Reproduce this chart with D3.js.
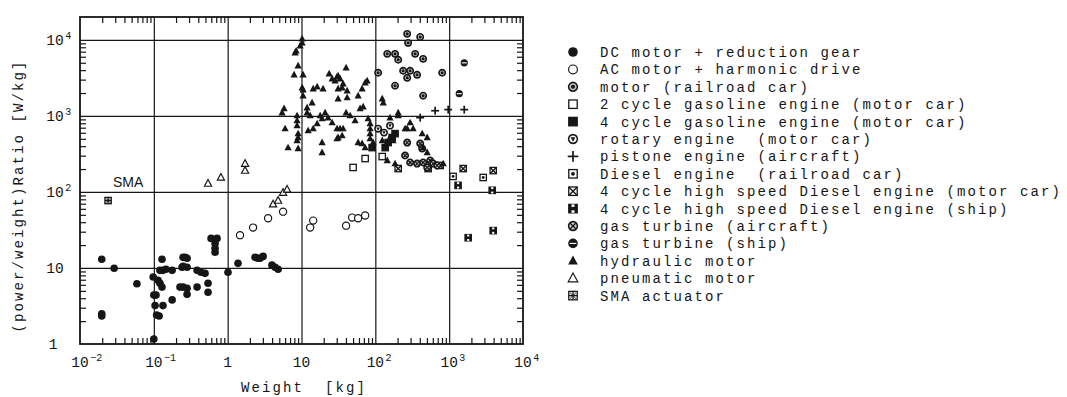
<!DOCTYPE html>
<html><head><meta charset="utf-8">
<script src="https://cdn.jsdelivr.net/npm/d3@7"></script>
<style>body{margin:0;background:#fff}</style>
</head><body>
<svg id="c" width="1067" height="397"></svg>
<script>
// ---------------- data ----------------
const xTickExps = [-2, -1, 0, 1, 2, 3, 4];
const yTickExps = [0, 1, 2, 3, 4];
const xTitle = "Weight  [kg]";
const yTitle = "(power/weight)Ratio [W/kg]";
const smaLabel = "SMA";

const seriesNames = [
  "DC motor + reduction gear",
  "AC motor + harmonic drive",
  "motor (railroad car)",
  "2 cycle gasoline engine (motor car)",
  "4 cycle gasoline engine (motor car)",
  "rotary engine  (motor car)",
  "pistone engine (aircraft)",
  "Diesel engine  (railroad car)",
  "4 cycle high speed Diesel engine (motor car)",
  "4 cycle high speed Diesel engine (ship)",
  "gas turbine (aircraft)",
  "gas turbine (ship)",
  "hydraulic motor",
  "pneumatic motor",
  "SMA actuator"
];
const seriesSymbols = ["dot","circle","bullseye","square","filledSquare","rotary","plus",
  "squareDot","squareX","squareH","circleX","circleBar","triangle","openTriangle","squareStar"];

// [weight kg, ratio W/kg]
const dcMotor = [[0.0197,13.0],[0.0197,2.5],[0.0197,2.33],[0.029,9.9],[0.059,6.2],[0.098,7.6],
  [0.1,1.16],[0.1,4.4],[0.107,4.4],[0.104,3.2],[0.109,2.4],[0.118,2.33],[0.129,13.0],[0.121,9.3],
  [0.133,9.3],[0.146,9.6],[0.177,9.3],[0.114,6.9],[0.121,6.3],[0.129,5.6],[0.133,3.2],[0.177,3.8],
  [0.226,5.6],[0.249,5.6],[0.282,5.4],[0.241,10.2],[0.249,10.5],[0.282,10.2],[0.249,13.8],
  [0.265,13.8],[0.282,13.4],[0.282,4.5],[0.385,9.3],[0.436,8.8],[0.494,8.5],[0.385,5.6],
  [0.542,6.3],[0.542,4.8],[0.596,24.5],[0.718,24.5],[0.675,21],[0.675,18.2],[0.675,16.1],
  [1.01,8.8],[1.38,11.5],[2.35,13.8],[2.57,13.4],[2.75,13.4],[3.02,14.2],[3.98,10.9],[4.39,10.2],[4.82,9.6]];
const acMotor = [[1.47,27],[2.21,34],[3.53,45],[5.63,55],[13.1,34],[14.4,42],[40.2,36],[48.5,46],[58.5,45],[72.8,49]];
const railroadMotor = [[270,12000],[278,9140],[405,10900],[145,6550],[185,6550],[204,5470],[346,6550],
  [444,5630],[109,3690],[238,3920],[270,3170],[296,3920],[368,3470],[804,3690],[185,2490],[444,1840]];
const gasoline2 = [[50,210],[72.8,275],[124,292]];
const gasoline4 = [[90.5,383],[136,383],[185,585],[169,519],[149,446]];
const rotaryEngine = [[109,680],[131,603],[158,745]];
const pistonEngine = [[405,948],[646,1170],[970,1210],[1600,1210]];
const dieselRail = [[1130,160],[2890,155]];
const dieselCar = [[204,203],[519,203],[755,223],[1550,203],[3950,191]];
const dieselShip = [[1320,122],[3830,105],[1810,25],[3950,31]];
const turbineAir = [[270,446],[253,301],[405,433],[431,372],[296,244],[368,236],[444,244],[504,210],[553,259],[607,236],[687,223]];
const turbineShip = [[1600,4990],[1370,1960]];
const hydraulic = [[10.2,10300],[10.2,9140],[9.57,8340],[8.45,7170],[8.19,6750],[9.0,4560],[7.94,3470],
  [10.5,3470],[10.2,2350],[10.5,2210],[10.5,1840],[14.4,2280],[16.3,2420],[19.6,2280],[23.7,3580],
  [26.0,3080],[28.5,2900],[30.3,3270],[31.3,3370],[33.3,3080],[36.6,2650],[40.2,4290],[31.3,2280],
  [35.5,2350],[41.5,2140],[41.5,1740],[31.3,1680],[13.9,1490],[11.9,1280],[58.5,1840],[66.2,2280],
  [72.8,2730],[77.4,2900],[62.2,1250],[68.4,1320],[124,1680],[128,1490],[5.81,1250],[5.46,1100],
  [8.71,1010],[8.71,866],[8.71,745],[6.0,680],[6.58,383],[9.0,372],[11.9,1100],[13.1,1010],[17.9,1010],
  [19.0,920],[16.3,791],[14.4,680],[12.3,641],[20.9,1100],[22.9,948],[26.0,815],[30.3,680],[33.3,680],
  [36.6,680],[31.3,519],[35.5,551],[30.3,503],[19.0,446],[19.0,330],[9.0,585],[9.0,519],[8.71,474],
  [40.2,1100],[45.6,1010],[53.2,866],[58.5,446],[66.2,433],[72.8,383],[79.8,920],[85,791],[85,680],
  [85,585],[85,503],[93.3,446],[158,948],[204,1010],[204,1100],[296,815],[270,680],[253,680],[325,680],
  [431,585],[504,519],[444,383],[504,330],[145,259],[185,236],[830,236],[158,519],[174,474],[124,474]];
const pneumatic = [[0.542,129],[0.81,155],[1.72,191],[1.72,236],[4.12,69],[4.82,77],[5.63,98],[6.38,108]];
const smaActuator = [[0.024,77]];

const seriesData = [dcMotor, acMotor, railroadMotor, gasoline2, gasoline4, rotaryEngine, pistonEngine,
  dieselRail, dieselCar, dieselShip, turbineAir, turbineShip, hydraulic, pneumatic, smaActuator];

// ---------------- drawing ----------------
const ink = "#161616";
const svg = d3.select("#c");
const L = 80, R = 523, T = 17, B = 344;
const x = d3.scaleLog().domain([1e-2, 1e4]).range([L, R]);
const y = d3.scaleLog().domain([1, 2e4]).range([B, T]);

const majX = xTickExps.map(e => Math.pow(10, e));
const majY = yTickExps.map(e => Math.pow(10, e));
const minX = [], minY = [];
for (let e = -2; e < 4; e++) for (let m = 2; m <= 9; m++) minX.push(m * Math.pow(10, e));
for (let e = 0; e < 4; e++) for (let m = 2; m <= 9; m++) minY.push(m * Math.pow(10, e));

function styleAxis(g) {
  g.select(".domain").remove();
  g.selectAll(".tick line").attr("stroke", ink).attr("stroke-width", 1.2);
}
// gridlines
svg.append("g").attr("transform", `translate(0,${B})`)
  .call(d3.axisBottom(x).tickValues(majX.slice(1, -1)).tickSize(-(B - T)).tickFormat(""))
  .call(styleAxis);
svg.append("g").attr("transform", `translate(${L},0)`)
  .call(d3.axisLeft(y).tickValues(majY.slice(1)).tickSize(-(R - L)).tickFormat(""))
  .call(styleAxis);
// minor ticks (inward) on four sides
svg.append("g").attr("transform", `translate(0,${B})`)
  .call(d3.axisBottom(x).tickValues(minX).tickSize(-6).tickFormat("")).call(styleAxis);
svg.append("g").attr("transform", `translate(0,${T})`)
  .call(d3.axisTop(x).tickValues(minX).tickSize(-6).tickFormat("")).call(styleAxis);
svg.append("g").attr("transform", `translate(${L},0)`)
  .call(d3.axisLeft(y).tickValues(minY).tickSize(-6).tickFormat("")).call(styleAxis);
svg.append("g").attr("transform", `translate(${R},0)`)
  .call(d3.axisRight(y).tickValues(minY).tickSize(-6).tickFormat("")).call(styleAxis);
// frame
svg.append("rect").attr("x", L).attr("y", T).attr("width", R - L).attr("height", B - T)
  .attr("fill", "none").attr("stroke", ink).attr("stroke-width", 1.8);

// tick labels
const tickFont = "'Liberation Mono', monospace";
function expLabel(g, e, cx, cy) {
  const t = g.append("text").attr("font-family", tickFont).attr("font-size", 14.5).attr("fill", ink);
  if (e === 0) {
    t.attr("x", cx).attr("y", cy).attr("text-anchor", "middle").text("1");
  } else if (e === 1) {
    t.attr("x", cx).attr("y", cy).attr("text-anchor", "middle").text("10");
  } else {
    t.attr("x", cx - 8.7).attr("y", cy).text("10");
    t.append("tspan").attr("font-size", 10).attr("dy", -6).attr("dx", 1.5)
      .text(e < 0 ? "\u2212" + (-e) : String(e));
  }
}
const gl = svg.append("g");
xTickExps.forEach(e => expLabel(gl, e, x(Math.pow(10, e)), 367));
yTickExps.forEach(e => expLabel(gl, e, e === 0 ? 53 : 55, y(Math.pow(10, e)) + 5));

// axis titles
const titleFont = "'Liberation Mono', monospace";
svg.append("text").attr("x", 304).attr("y", 392).attr("text-anchor", "middle")
  .attr("font-family", titleFont).attr("font-size", 14).attr("letter-spacing", 2.1)
  .attr("fill", ink).style("white-space", "pre").text(xTitle);
svg.append("text").attr("transform", "translate(23,196) rotate(-90)").attr("text-anchor", "middle")
  .attr("font-family", titleFont).attr("font-size", 14).attr("letter-spacing", 2.1)
  .attr("fill", ink).text(yTitle);

// markers
function marker(g, type, cx, cy, s) {
  const G = g.append("g").attr("transform", `translate(${cx},${cy})`);
  const sw = 1.3;
  const q = s * 0.88;
  const sq = (fill) => G.append("rect").attr("x", -q).attr("y", -q).attr("width", 2 * q).attr("height", 2 * q)
    .attr("fill", fill).attr("stroke", ink).attr("stroke-width", sw);
  const ln = (x1, y1, x2, y2, w, c) => G.append("line").attr("x1", x1).attr("y1", y1).attr("x2", x2).attr("y2", y2)
    .attr("stroke", c || ink).attr("stroke-width", w || sw);
  switch (type) {
    case "dot": G.append("circle").attr("r", s).attr("fill", ink); break;
    case "circle": G.append("circle").attr("r", s - 0.4).attr("fill", "#fff").attr("stroke", ink).attr("stroke-width", sw * 0.9); break;
    case "bullseye":
      G.append("circle").attr("r", s - 0.4).attr("fill", "#bbb").attr("stroke", ink).attr("stroke-width", sw * 1.2);
      G.append("circle").attr("r", s * 0.42).attr("fill", ink); break;
    case "square": sq("#fff"); break;
    case "filledSquare": sq(ink); break;
    case "rotary":
      G.append("circle").attr("r", s - 0.4).attr("fill", "#fff").attr("stroke", ink).attr("stroke-width", sw * 1.2);
      G.append("path").attr("d", `M0,${s * 0.55}L${-s * 0.5},${-s * 0.35}L${s * 0.5},${-s * 0.35}Z`).attr("fill", ink);
      break;
    case "plus": ln(-s * 1.1, 0, s * 1.1, 0, 1.7); ln(0, -s * 1.1, 0, s * 1.1, 1.7); break;
    case "squareDot": sq("#fff"); G.append("circle").attr("r", s * 0.4).attr("fill", ink); break;
    case "squareX": sq("#fff"); ln(-q, -q, q, q, 1.4); ln(-q, q, q, -q, 1.4); break;
    case "squareH":
      sq(ink);
      G.append("rect").attr("x", -q * 0.35).attr("y", -q).attr("width", q * 0.7).attr("height", q * 0.6).attr("fill", "#fff");
      G.append("rect").attr("x", -q * 0.35).attr("y", q * 0.4).attr("width", q * 0.7).attr("height", q * 0.6).attr("fill", "#fff");
      break;
    case "circleX": {
      G.append("circle").attr("r", s - 0.4).attr("fill", "#ccc").attr("stroke", ink).attr("stroke-width", sw * 1.2);
      const k = s * 0.62; ln(-k, -k, k, k, 1.2); ln(-k, k, k, -k, 1.2); break; }
    case "circleBar":
      G.append("circle").attr("r", s).attr("fill", ink);
      ln(-s * 0.7, 0, s * 0.7, 0, 1.1, "#fff"); break;
    case "triangle":
      G.append("path").attr("d", `M0,${-s * 1.1}L${s},${s * 0.75}L${-s},${s * 0.75}Z`).attr("fill", ink); break;
    case "openTriangle":
      G.append("path").attr("d", `M0,${-s * 1.1}L${s},${s * 0.75}L${-s},${s * 0.75}Z`).attr("fill", "#fff")
        .attr("stroke", ink).attr("stroke-width", sw * 0.9); break;
    case "squareStar": sq("#fff"); ln(-q, 0, q, 0); ln(0, -q, 0, q); ln(-q * 0.7, -q * 0.7, q * 0.7, q * 0.7, 0.9); ln(-q * 0.7, q * 0.7, q * 0.7, -q * 0.7, 0.9); break;
  }
}

const gp = svg.append("g");
seriesData.forEach((arr, i) => {
  const type = seriesSymbols[i];
  const s = (type === "circle") ? 4.0 : (type === "dot" ? 3.8 : 3.6);
  arr.forEach(d => marker(gp, type, x(d[0]), y(d[1]), s));
});

// SMA annotation
svg.append("text").attr("x", 113).attr("y", 187).attr("font-family", "'Liberation Sans', Arial, sans-serif")
  .attr("font-size", 14).attr("fill", ink).text(smaLabel);

// legend
const lg = svg.append("g");
seriesNames.forEach((name, i) => {
  const cy = 52 + i * 17.4;
  marker(lg, seriesSymbols[i], 573, cy, 4.8);
  lg.append("text").attr("x", 600).attr("y", cy + 5).attr("font-family", titleFont).attr("font-size", 14)
    .attr("letter-spacing", 2.1).attr("fill", ink).style("white-space", "pre").text(name);
});
</script>
</body></html>
